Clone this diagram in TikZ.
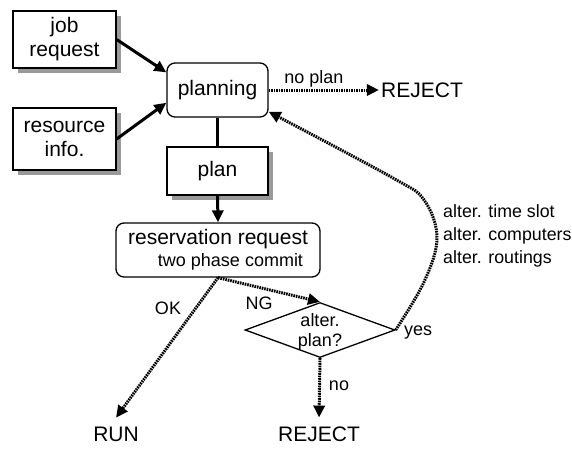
\documentclass[tikz,border=0pt]{standalone}
\usepackage{fontspec}
\setmainfont{Liberation Sans}
\usetikzlibrary{arrows.meta,shapes.geometric,shadows}
\begin{document}
\begin{tikzpicture}[x=1pt,y=-1pt,
  big/.style={font=\fontsize{21}{24}\selectfont},
  small/.style={font=\fontsize{18}{22}\selectfont},
  sbox/.style={draw, line width=1.3pt, fill=white, inner sep=0pt, align=center,
    drop shadow={shadow xshift=5pt, shadow yshift=-5pt, fill=black!40, opacity=1}},
  rbox/.style={draw, line width=1.3pt, rounded corners=8pt, fill=white, inner sep=0pt, align=center},
  solidarrow/.style={line width=3pt, -{Triangle[length=12pt,width=11pt]}},
  dotarrow/.style={line width=3pt, dash pattern=on 1.6pt off 0.9pt, -{Triangle[length=12pt,width=11pt]}},
  endlbl/.style={big, inner sep=2pt},
  lbl/.style={small, inner sep=0pt}
]
\useasboundingbox (0,0) rectangle (572,448);

\node[sbox, big, minimum width=103pt, minimum height=57pt] (job) at (64.5,39.5) {job\\request};
\node[sbox, big, minimum width=103pt, minimum height=62pt] (resinfo) at (64.5,139) {resource\\info.};
\node[rbox, big, minimum width=101pt, minimum height=54pt] (planning) at (217.5,90) {planning};
\node[sbox, big, minimum width=101pt, minimum height=48pt] (plan) at (217.5,171) {plan};
\node[rbox, minimum width=204pt, minimum height=54pt, font=\fontsize{21}{22}\selectfont] (resv) at (218,250)
  {reservation request\\{\fontsize{18}{22}\selectfont\hspace*{25pt}two phase commit}};
\node[draw, diamond, line width=1.3pt, minimum width=150pt, minimum height=55pt, inner sep=0pt] (dia) at (320,330) {};
\node[align=center, inner sep=0pt, font=\fontsize{18}{20}\selectfont] (diatxt) at (320,332) {alter.\\plan?};

\node[endlbl] (rej1) at (422,90) {REJECT};
\node[endlbl, outer sep=7pt] (run) at (116,434) {RUN};
\node[endlbl, outer sep=7pt] (rej2) at (319,434) {REJECT};

\node[lbl] (lnoplan) at (314,79) {no plan};
\node[lbl] (lok) at (168,308) {OK};
\node[lbl] (lng) at (259,303) {NG};
\node[lbl] (lno) at (339,386) {no};
\node[lbl] (lyes) at (418,333) {yes};
\node[align=left, anchor=west, inner sep=0pt, font=\fontsize{17.8}{23}\selectfont] (alt) at (443,236)
  {alter. time slot\\alter. computers\\alter. routings};

\draw[solidarrow] (job.east) -- (planning.161);
\draw[solidarrow] (resinfo.east) -- (planning.194);
\draw[line width=3.5pt] (planning.south) -- (plan.north);
\draw[solidarrow] (plan.south) -- (resv.north);
\draw[dotarrow] (planning.east) -- (rej1.west);
\draw[dotarrow] (resv.south) -- (run.north);
\draw[dotarrow] (resv.south) -- (dia.north);
\draw[dotarrow] (dia.south) -- (rej2.north);
\draw[dotarrow] plot[smooth, tension=0.6] coordinates {(dia.east) (424,282) (437,238) (424,200) (393,178) (planning.-23)};
\end{tikzpicture}
\end{document}
